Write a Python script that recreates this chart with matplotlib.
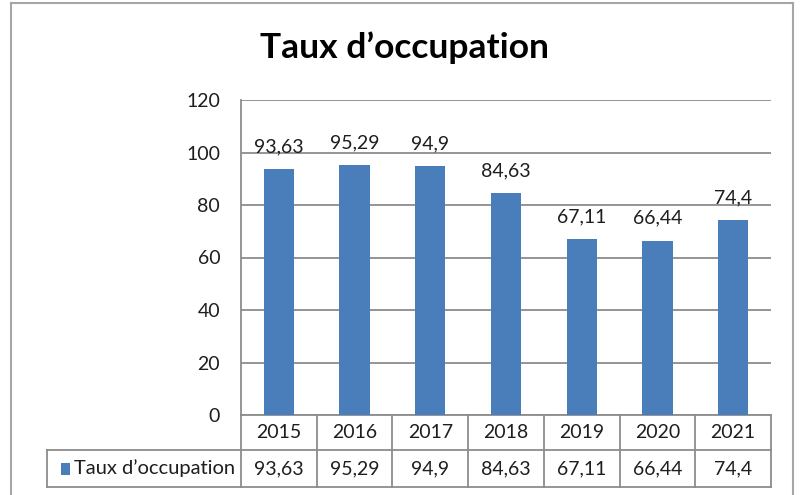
import numpy as np
import matplotlib.pyplot as plt
import matplotlib.transforms as mtransforms
from matplotlib.lines import Line2D
from matplotlib.patches import Rectangle

plt.rcParams['font.family'] = ['Lato', 'DejaVu Sans']

years = ['2015', '2016', '2017', '2018', '2019', '2020', '2021']
taux = [93.63, 95.29, 94.9, 84.63, 67.11, 66.44, 74.4]
serie = "Taux d\u2019occupation"
yticks = [0, 20, 40, 60, 80, 100, 120]

bar_col = '#4a7ebb'
line_col = '#8c8c8c'
txt_col = '#1e1e1e'
fs = 14

def fr(v):
    # french decimal comma
    return ('%g' % v).replace('.', ',')

fig = plt.figure(figsize=(8.01, 4.95), dpi=100)
ax = fig.add_axes([241/801, 80/495, 530/801, 315/495])

x = np.arange(len(years))
ax.bar(x, taux, width=0.4, color=bar_col, zorder=3)
for xi, v in zip(x, taux):
    ax.annotate(fr(v), xy=(xi, v), xytext=(0, 16), textcoords='offset points',
                ha='center', va='center', fontsize=fs, color=txt_col)

ax.set_xlim(-0.5, len(years) - 0.5)
ax.set_ylim(0, 120)
ax.set_yticks(yticks)
ax.set_yticklabels([str(t) for t in yticks], fontsize=fs, color=txt_col)
ax.set_xticks([])
ax.tick_params(axis='y', length=0, pad=15)
ax.grid(axis='y', color=line_col, linewidth=1.3, zorder=0)
for s in ['top', 'right', 'bottom']:
    ax.spines[s].set_visible(False)
ax.spines['left'].set_color(line_col)
ax.spines['left'].set_linewidth(1.3)

fig.text(0.505, 1 - 48/495, serie, ha='center', va='center',
         fontsize=25.5, fontweight='bold', color='black')

# data table under the plot
tr = mtransforms.blended_transform_factory(ax.transData, ax.transAxes)
px = 1 / 315
r1 = -35 * px
r2 = -72 * px
xl = -0.5
xr = len(years) - 0.5
xleg = xl - (241 - 47) / 75.7
lk = dict(color=line_col, linewidth=1.3, transform=tr, clip_on=False)
ax.add_line(Line2D([xl, xr], [0, 0], **lk))
ax.add_line(Line2D([xleg, xr], [r1, r1], **lk))
ax.add_line(Line2D([xleg, xr], [r2, r2], **lk))
ax.add_line(Line2D([xleg, xleg], [r1, r2], **lk))
for b in np.arange(len(years) + 1) - 0.5:
    ax.add_line(Line2D([b, b], [0, r2], **lk))
for xi, y, v in zip(x, years, taux):
    ax.text(xi, r1 / 2, y, transform=tr, ha='center', va='center',
            fontsize=fs, color=txt_col)
    ax.text(xi, (r1 + r2) / 2, fr(v), transform=tr, ha='center', va='center',
            fontsize=fs, color=txt_col)
ax.add_patch(Rectangle((xleg + 14 / 75.7, (r1 + r2) / 2 - 6 * px), 9 / 75.7, 12 * px,
                       facecolor=bar_col, transform=tr, clip_on=False))
ax.text(xleg + 27 / 75.7, (r1 + r2) / 2, serie, transform=tr, ha='left',
        va='center', fontsize=fs + 0.5, color=txt_col)

# outer frame
fk = dict(color='#a6a6a6', linewidth=1.5, transform=fig.transFigure)
fig.add_artist(Line2D([11/801, 11/801], [0, 1 - 3/495], **fk))
fig.add_artist(Line2D([11/801, 793/801], [1 - 3/495, 1 - 3/495], **fk))
fig.add_artist(Line2D([793/801, 793/801], [0, 1 - 3/495], **fk))

fig.savefig('out.png', dpi=100)
